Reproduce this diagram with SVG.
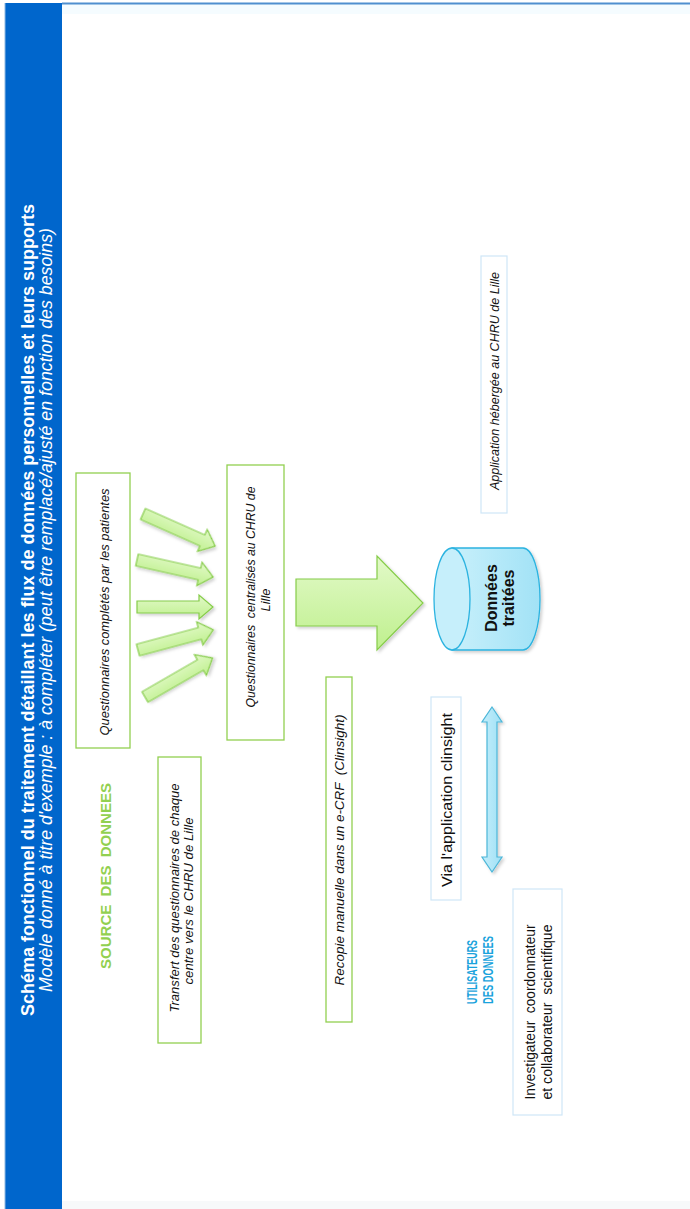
<svg xmlns="http://www.w3.org/2000/svg" width="690" height="1209" viewBox="0 0 690 1209">
<defs>
<style>
.t{font-family:"Liberation Sans",Arial,sans-serif}
.it{font-family:"Liberation Sans",Arial,sans-serif;font-style:italic;fill:#111}
.gbox{fill:#fff;stroke:#92D050;stroke-width:1.3}
.bbox{fill:#fff;stroke:#cfe6f7;stroke-width:1.2}
.garrow{fill:url(#gg);stroke:#86cc4a;stroke-width:1.2;filter:url(#sh)}
</style>
<linearGradient id="gg" x1="0" y1="0" x2="0" y2="1">
<stop offset="0" stop-color="#e2f9c8"/><stop offset="1" stop-color="#bff08e"/>
</linearGradient>
<linearGradient id="bg" x1="0" y1="0" x2="1" y2="0">
<stop offset="0" stop-color="#c4eefb"/><stop offset="1" stop-color="#9fe0f5"/>
</linearGradient>
<linearGradient id="cg" x1="0" y1="0" x2="1" y2="0">
<stop offset="0" stop-color="#c8f0fb"/><stop offset="1" stop-color="#a2e2f6"/>
</linearGradient>
<filter id="sh" x="-20%" y="-20%" width="150%" height="150%">
<feDropShadow dx="2" dy="2" stdDeviation="1.5" flood-color="#000" flood-opacity="0.18"/>
</filter>
</defs>
<rect x="0" y="0" width="690" height="1209" fill="#fff"/>
<rect x="62" y="4" width="628" height="10" fill="#f5fcff"/>
<line x1="62" y1="3.5" x2="690" y2="3.5" stroke="#4f8fcf" stroke-width="2"/>
<rect x="48" y="1201" width="642" height="8" fill="#f7f9fa"/>
<rect x="5" y="3" width="57" height="1206" fill="#0066CC"/>
<line x1="5" y1="3" x2="5" y2="1209" stroke="#8fb8e0" stroke-width="1"/>

<g id="title">
<text class="t" transform="translate(34,610) rotate(-90)" text-anchor="middle" font-size="18" font-weight="bold" fill="#fff" textLength="812" lengthAdjust="spacingAndGlyphs">Schéma fonctionnel du traitement détaillant les flux de données personnelles et leurs supports</text>
<text class="t" transform="translate(52,610) rotate(-90)" text-anchor="middle" font-size="17.5" font-style="italic" fill="#fff" textLength="764" lengthAdjust="spacingAndGlyphs">Modèle donné à titre d'exemple : à compléter (peut être remplacé/ajusté en fonction des besoins)</text>
</g>

<g id="source-label">
<text class="t" transform="translate(111,876) rotate(-90)" text-anchor="middle" font-size="15" font-weight="bold" fill="#92D050" style="white-space:pre">SOURCE  DES  DONNEES</text>
</g>

<g id="q-patientes">
<rect class="gbox" x="76" y="473" width="54" height="275"/>
<text class="it" transform="translate(109,612) rotate(-90)" text-anchor="middle" font-size="13" textLength="247" lengthAdjust="spacingAndGlyphs">Questionnaires complétés par les patientes</text>
</g>

<g id="transfert">
<rect class="gbox" x="158" y="757" width="43" height="286"/>
<text class="it" transform="translate(179,898) rotate(-90)" text-anchor="middle" font-size="12.5" textLength="229" lengthAdjust="spacingAndGlyphs">Transfert des questionnaires de chaque</text>
<text class="it" transform="translate(193,901) rotate(-90)" text-anchor="middle" font-size="12.5" textLength="167" lengthAdjust="spacingAndGlyphs">centre vers le CHRU de Lille</text>
</g>

<g id="q-centralises">
<rect class="gbox" x="227" y="465" width="57" height="275"/>
<text class="it" transform="translate(255,597) rotate(-90)" text-anchor="middle" font-size="13" style="white-space:pre" textLength="221" lengthAdjust="spacingAndGlyphs">Questionnaires  centralisés au CHRU de</text>
<text class="it" transform="translate(270,600) rotate(-90)" text-anchor="middle" font-size="13">Lille</text>
</g>

<g id="recopie">
<rect class="gbox" x="326" y="677" width="26" height="345"/>
<text class="it" transform="translate(344,850) rotate(-90)" text-anchor="middle" font-size="13" style="white-space:pre" textLength="271" lengthAdjust="spacingAndGlyphs">Recopie manuelle dans un e-CRF  (Clinsight)</text>
</g>

<g id="donnees-traitees">
<path d="M452,548 L523,548 A17,51 0 0 1 523,650 L452,650 Z" fill="url(#cg)" stroke="#2bb3e0" stroke-width="1.3" filter="url(#sh)"/>
<ellipse cx="452" cy="599" rx="18" ry="51" fill="#c6effb" stroke="#2bb3e0" stroke-width="1.3"/>
<text class="t" transform="translate(497,598) rotate(-90)" text-anchor="middle" font-size="16" font-weight="bold" fill="#111">Données</text>
<text class="t" transform="translate(514,598) rotate(-90)" text-anchor="middle" font-size="16" font-weight="bold" fill="#111">traitées</text>
</g>

<g id="application">
<rect class="bbox" x="481" y="256" width="26" height="257"/>
<text class="it" transform="translate(499,381) rotate(-90)" text-anchor="middle" font-size="12.5" textLength="218" lengthAdjust="spacingAndGlyphs">Application hébergée au CHRU de Lille</text>
</g>

<g id="via-clinsight">
<rect class="bbox" x="431" y="697" width="30" height="203"/>
<text class="t" transform="translate(452,800) rotate(-90)" text-anchor="middle" font-size="15.5" fill="#111" textLength="174" lengthAdjust="spacingAndGlyphs">Via l'application clinsight</text>
</g>

<g id="utilisateurs-label">
<text class="t" transform="translate(477,1004) rotate(-90)" font-size="14" font-weight="bold" fill="#1aa3dc" textLength="64" lengthAdjust="spacingAndGlyphs">UTILISATEURS</text>
<text class="t" transform="translate(493,1004) rotate(-90)" font-size="14" font-weight="bold" fill="#1aa3dc" textLength="68" lengthAdjust="spacingAndGlyphs">DES DONNEES</text>
</g>

<g id="investigateur">
<rect class="bbox" x="513" y="889" width="49" height="226"/>
<text class="t" transform="translate(535,1012) rotate(-90)" text-anchor="middle" font-size="14.5" fill="#111" style="white-space:pre" textLength="175" lengthAdjust="spacingAndGlyphs">Investigateur  coordonnateur</text>
<text class="t" transform="translate(552,1012) rotate(-90)" text-anchor="middle" font-size="14.5" fill="#111" style="white-space:pre" textLength="175" lengthAdjust="spacingAndGlyphs">et collaborateur  scientifique</text>
</g>

<g id="connectors">
<polygon class="garrow" transform="translate(143,514) rotate(24)" points="0,-6 65,-6 65,-12 79,0 65,12 65,6 0,6"/>
<polygon class="garrow" transform="translate(137,560) rotate(12.6)" points="0,-6 64,-6 64,-12 78,0 64,12 64,6 0,6"/>
<polygon class="garrow" transform="translate(137,607)" points="0,-6 62,-6 62,-12 76,0 62,12 62,6 0,6"/>
<polygon class="garrow" transform="translate(138,650) rotate(-15)" points="0,-6 64,-6 64,-12 78,0 64,12 64,6 0,6"/>
<polygon class="garrow" transform="translate(145,697) rotate(-30)" points="0,-6 64,-6 64,-12 78,0 64,12 64,6 0,6"/>
<polygon class="garrow" points="296,579 377,579 377,556 423,603 377,650 377,626 296,626"/>
<polygon fill="url(#bg)" stroke="#4cb6d8" stroke-width="1.2" filter="url(#sh)" points="492,707 502,722 497,722 497,857 502,857 492,872 482,857 487,857 487,722 482,722"/>
</g>
</svg>
